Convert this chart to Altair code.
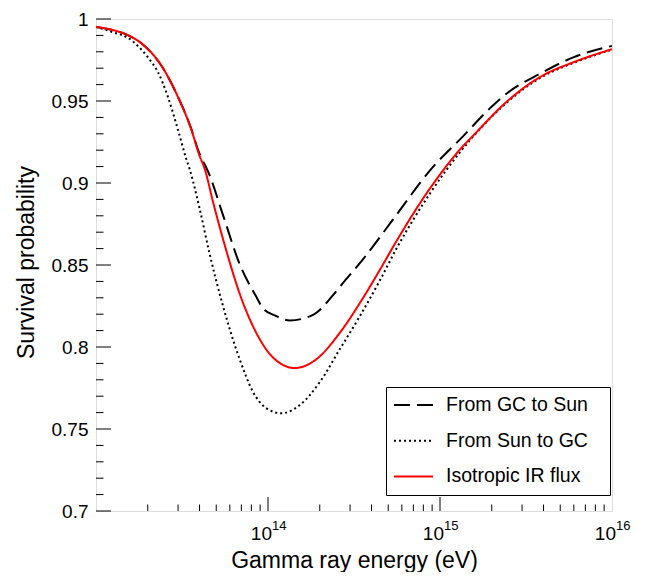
import altair as alt
import pandas as pd

# ---------------- data ----------------
series_names = ["From GC to Sun", "From Sun to GC", "Isotropic IR flux"]

# log10(E / eV) and survival probability
gc_sun_log_e = [13.0, 13.108, 13.185, 13.282, 13.38, 13.476, 13.554, 13.591, 13.661,
                13.738, 13.835, 13.932, 13.971, 14.039, 14.126, 14.262, 14.378, 14.417,
                14.553, 14.747, 14.941, 15.135, 15.3, 15.388, 15.581, 15.775, 16.0]
gc_sun_prob = [0.9952, 0.9930, 0.9902, 0.9836, 0.9716, 0.9526, 0.9330, 0.9208, 0.9046,
               0.8806, 0.8506, 0.8306, 0.8236, 0.8193, 0.8162, 0.8196, 0.8316, 0.8366,
               0.8536, 0.8806, 0.9076, 0.9286, 0.9465, 0.9546, 0.9666, 0.9766, 0.9836]

sun_gc_log_e = [13.0, 13.108, 13.185, 13.243, 13.302, 13.36, 13.418, 13.476, 13.525,
                13.544, 13.602, 13.661, 13.729, 13.835, 13.913, 13.991, 14.078, 14.185,
                14.301, 14.417, 14.534, 14.65, 14.747, 14.941, 15.135, 15.388, 15.581,
                15.775, 16.0]
sun_gc_prob = [0.9952, 0.9916, 0.9886, 0.9836, 0.9766, 0.9676, 0.9526, 0.9326, 0.9146,
               0.9086, 0.8846, 0.8566, 0.8286, 0.7926, 0.7726, 0.7626, 0.7596, 0.7646,
               0.7786, 0.7986, 0.8188, 0.8405, 0.8600, 0.8935, 0.9212, 0.9490, 0.9640,
               0.9732, 0.9813]

iso_log_e = [13.0, 13.108, 13.185, 13.282, 13.38, 13.476, 13.554, 13.602, 13.632, 13.68,
             13.758, 13.835, 13.932, 14.029, 14.155, 14.282, 14.417, 14.553, 14.65,
             14.747, 14.941, 15.135, 15.193, 15.388, 15.581, 15.775, 16.0]
iso_prob = [0.9952, 0.9930, 0.9902, 0.9836, 0.9716, 0.9526, 0.9326, 0.9166, 0.9086, 0.8886,
            0.8586, 0.8326, 0.8086, 0.7936, 0.7872, 0.7926, 0.8086, 0.8300, 0.8470,
            0.8646, 0.8966, 0.9226, 0.9289, 0.9496, 0.9646, 0.9736, 0.9816]

# axis ticks / labels
y_major = [0.7, 0.75, 0.8, 0.85, 0.9, 0.95, 1.0]
y_minor = [0.71, 0.72, 0.73, 0.74, 0.76, 0.77, 0.78, 0.79, 0.81, 0.82, 0.83, 0.84,
           0.86, 0.87, 0.88, 0.89, 0.91, 0.92, 0.93, 0.94, 0.96, 0.97, 0.98, 0.99]
x_major = [1e14, 1e15]
x_minor = [m * d for d in (1e13, 1e14, 1e15) for m in (2, 3, 4, 5, 6, 7, 8, 9)]
x_label_pos = [1e14, 1e15, 1e16]
x_label_base = ["10", "10", "10"]
x_label_exp = ["14", "15", "16"]

# ---------------- table ----------------
rows = []
for name, xs, ys in [(series_names[0], gc_sun_log_e, gc_sun_prob),
                     (series_names[1], sun_gc_log_e, sun_gc_prob),
                     (series_names[2], iso_log_e, iso_prob)]:
    for lx, p in zip(xs, ys):
        rows.append({"energy": 10 ** lx, "prob": p, "series": name})
df = pd.DataFrame(rows)

FONT = "Liberation Sans"
W, H = 516, 492

x_scale = alt.Scale(type="log", domain=[1e13, 1e16], nice=False)
y_scale = alt.Scale(domain=[0.7, 1.0], nice=False, zero=False)

x_axis = alt.Axis(title="Gamma ray energy (eV)", labels=False, ticks=False,
                  domain=False, grid=False, titleFont=FONT, titleFontSize=23,
                  titleFontWeight="normal", titleColor="black",
                  titleX=W / 2, titleY=56, titleBaseline="alphabetic",
                  titleAlign="center")
y_axis = alt.Axis(title="Survival probability", values=y_major, format="~g",
                  ticks=False, domain=False, grid=False, labelFont=FONT,
                  labelFontSize=19, labelColor="black", labelPadding=8,
                  titleFont=FONT, titleFontSize=23, titleFontWeight="normal",
                  titleColor="black", titleX=-58, titleY=H / 2 - 3,
                  titleAngle=270, titleBaseline="bottom", titleAlign="center")


def X(field="energy:Q"):
    return alt.X(field, scale=x_scale, axis=x_axis)


def Y(field="prob:Q"):
    return alt.Y(field, scale=y_scale, axis=y_axis)


legend = alt.Legend(
    title=None, orient="none", legendX=290, legendY=368,
    symbolType="stroke", symbolSize=1521, symbolStrokeWidth=2,
    labelFont=FONT, labelFontSize=19.5, labelOffset=12, labelColor="black",
    labelExpr="datum.label + '\u00a0\u00a0\u2009\u200b'", labelLimit=400,
    clipHeight=22, padding=7, rowPadding=13.7,
    strokeColor="black", fillColor="white",
)

lines = alt.Chart(df).mark_line(strokeWidth=2, clip=True, interpolate="monotone").encode(
    x=X(), y=Y(),
    color=alt.Color("series:N",
                    scale=alt.Scale(domain=series_names, range=["black", "black", "#ff0000"]),
                    legend=legend),
    strokeDash=alt.StrokeDash("series:N",
                              scale=alt.Scale(domain=series_names,
                                              range=[[16, 7], [2, 3], [1, 0]]),
                              legend=legend),
)

y_major_ticks = alt.Chart(pd.DataFrame({"prob": y_major})).mark_rule(
    color="black", strokeWidth=1).encode(y=Y(), x=alt.value(0), x2=alt.value(15))
y_minor_ticks = alt.Chart(pd.DataFrame({"prob": y_minor})).mark_rule(
    color="black", strokeWidth=1).encode(y=Y(), x=alt.value(0), x2=alt.value(7.5))
x_major_ticks = alt.Chart(pd.DataFrame({"energy": x_major})).mark_rule(
    color="black", strokeWidth=1).encode(x=X(), y=alt.value(H), y2=alt.value(H - 14))
x_minor_ticks = alt.Chart(pd.DataFrame({"energy": x_minor})).mark_rule(
    color="black", strokeWidth=1).encode(x=X(), y=alt.value(H), y2=alt.value(H - 6.5))

lab_df = pd.DataFrame({"energy": x_label_pos, "base": x_label_base, "exp": x_label_exp})
x_base = alt.Chart(lab_df).mark_text(
    align="right", baseline="alphabetic", dx=4, font=FONT, fontSize=19, color="black").encode(
    x=X(), y=alt.value(H + 29), text="base:N")
x_exp = alt.Chart(lab_df).mark_text(
    align="left", baseline="alphabetic", dx=4, font=FONT, fontSize=13, color="black").encode(
    x=X(), y=alt.value(H + 19), text="exp:N")

chart = alt.layer(
    lines, y_minor_ticks, y_major_ticks, x_minor_ticks, x_major_ticks, x_base, x_exp
).properties(
    width=W, height=H,
    autosize=alt.AutoSizeParams(type="none"),
    padding={"left": 88, "top": 11, "right": 24, "bottom": 61},
).configure_view(
    stroke="black", strokeWidth=1
).configure(background="white")

chart.save("out.html", embed_options={"renderer": "svg", "actions": False})
